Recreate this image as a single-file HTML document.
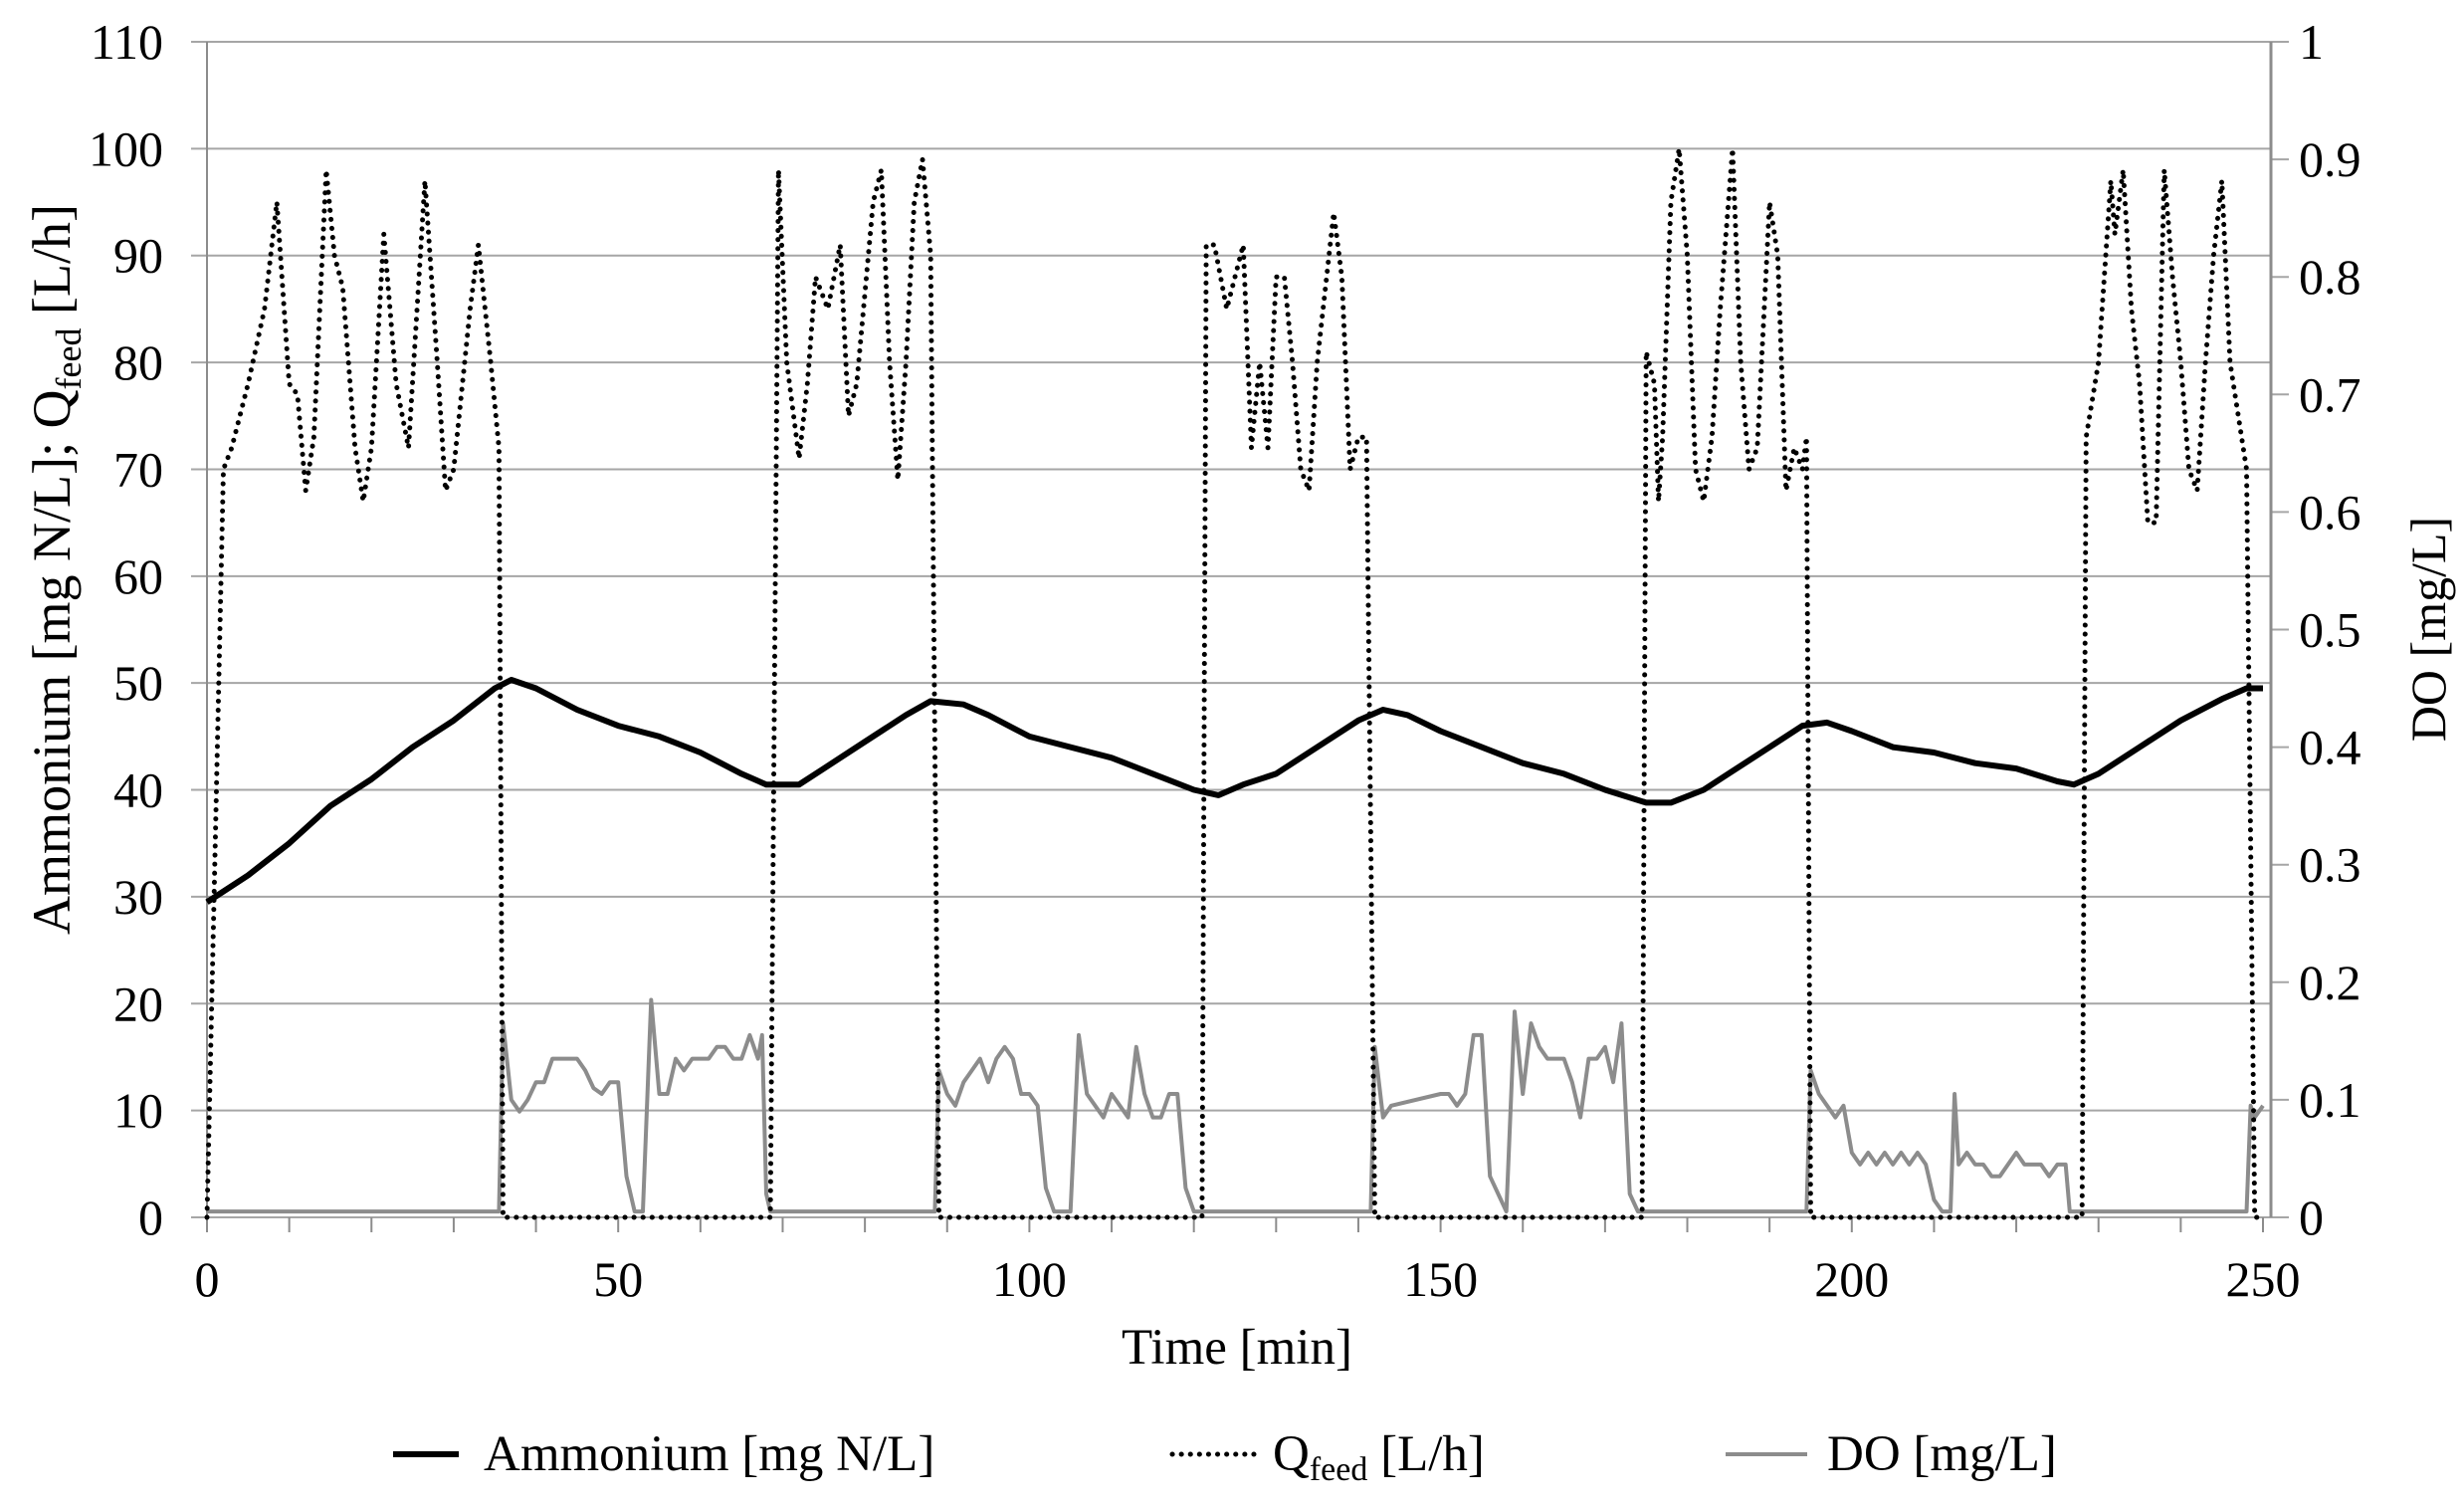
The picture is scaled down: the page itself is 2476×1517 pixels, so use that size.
<!DOCTYPE html>
<html><head><meta charset="utf-8"><style>
html,body{margin:0;padding:0;background:#fff;}
svg text{font-family:"Liberation Serif",serif;fill:#000;}
</style></head><body>
<svg id="chart" width="2476" height="1512" viewBox="0 0 2476 1512" xmlns="http://www.w3.org/2000/svg">
<g id="grid"></g>
<g id="axes"></g>
<g id="series"></g>
<text x="1243" y="1370" font-size="51" text-anchor="middle">Time [min]</text>
<text transform="translate(70,572) rotate(-90)" font-size="54" text-anchor="middle">Ammonium [mg N/L]; Q<tspan font-size="36" dy="11">feed</tspan><tspan dy="-11"> [L/h]</tspan></text>
<text transform="translate(2457,632) rotate(-90)" font-size="50" text-anchor="middle">DO [mg/L]</text>
<g>
<line x1="395" y1="1461" x2="461" y2="1461" stroke="#000" stroke-width="6"/>
<text x="486" y="1477" font-size="51">Ammonium [mg N/L]</text>
<line x1="1178" y1="1461" x2="1263" y2="1461" stroke="#000" stroke-width="5" stroke-dasharray="0.1 9" stroke-linecap="round"/>
<text x="1279" y="1477" font-size="51">Q<tspan font-size="34" dy="10">feed</tspan><tspan dy="-10"> [L/h]</tspan></text>
<line x1="1734" y1="1461" x2="1816" y2="1461" stroke="#8c8c8c" stroke-width="4"/>
<text x="1836" y="1477" font-size="51">DO [mg/L]</text>
</g>
</svg>
<script>
const ammT=[0,5,10,15,20,25,30,35,37,40,45,50,55,60,65,68,72,75,80,85,88,92,95,100,105,110,115,120,123,126,130,135,140,143,146,150,155,160,165,170,175,178,182,185,190,194,197,200,205,210,215,220,225,227,230,235,240,245,248,250];
const ammV=[29.5,32,35,38.5,41,44,46.5,49.5,50.3,49.5,47.5,46,45,43.5,41.5,40.5,40.5,42,44.5,47,48.3,48,47,45,44,43,41.5,40,39.5,40.5,41.5,44,46.5,47.5,47,45.5,44,42.5,41.5,40,38.8,38.8,40,41.5,44,46,46.3,45.5,44,43.5,42.5,42,40.8,40.5,41.5,44,46.5,48.5,49.5,49.5];
const qT=[0,1,2,3,5,7,8.5,10,11,12,13,14.5,15.5,16.5,18,19,20,21.5,23,24.5,26.5,28,29,30,32,33,34.5,35.5,36,68.5,69.5,70.5,72,73,74,75.5,77,78,79,81,82,83,84,85,86,87,88,89,121,121.5,122.5,124,125,126,127,128,129,130,131,132,133,134,135,137,138,139,140,141,142,174.5,175,176,176.5,177,178,179,180,181,182,183,184,185.5,186.5,187.5,188.5,190,191,192,193,194,194.5,195,228,228.5,230,231.5,232,233,234,235,236,237,238,239,240,241,242,243,244,245,246,247,248,249,250];
const qV=[0,35,70,72,78,85,95,78,77,68,73,98,90,87,72,67,72,92,78,72,97,80,68,70,85,91,80,72,0,0,98,80,71,78,88,85,91,75,78,95,98,80,69,80,95,99,90,0,0,91,91,85,88,91,72,80,72,88,88,80,70,68,80,94,88,70,73,73,0,0,81,78,67,73,95,100,90,70,67,73,85,100,80,70,72,95,90,68,72,70,73,0,0,73,80,97,92,98,85,78,65,65,98,88,80,70,68,80,90,97,80,75,70,0,0];
const doT=[0,35.5,
36,37,38,39,40,41,42,43,44,45,46,47,48,49,50,51,52,53,
54,55,56,57,58,59,60,61,62,63,64,65,66,67,67.5,68,68.5,
88.5,
89,90,91,92,93,94,95,96,97,98,99,100,101,102,103,
105,106,107,108,109,110,111,112,113,114,115,116,117,118,119,120,120.5,
141.5,
142,143,144,150,151,152,153,154,155,156,158,
159,160,161,162,163,164,165,166,167,168,169,170,171,172,173,174,174.5,
194.5,
195,196,197,198,199,200,201,202,203,204,205,206,207,208,209,210,211,212,
212.5,213,214,215,216,217,218,219,220,221,222,223,224,225,226,226.5,
248,248.5,249,250];
const doV=[0.005,0.005,
0.165,0.1,0.09,0.1,0.115,0.115,0.135,0.135,0.135,0.135,0.125,0.11,0.105,0.115,0.115,0.035,0.005,0.005,
0.185,0.105,0.105,0.135,0.125,0.135,0.135,0.135,0.145,0.145,0.135,0.135,0.155,0.135,0.155,0.02,0.005,
0.005,
0.125,0.105,0.095,0.115,0.125,0.135,0.115,0.135,0.145,0.135,0.105,0.105,0.095,0.025,0.005,
0.005,0.155,0.105,0.095,0.085,0.105,0.095,0.085,0.145,0.105,0.085,0.085,0.105,0.105,0.025,0.005,0.005,
0.005,
0.145,0.085,0.095,0.105,0.105,0.095,0.105,0.155,0.155,0.035,0.005,
0.175,0.105,0.165,0.145,0.135,0.135,0.135,0.115,0.085,0.135,0.135,0.145,0.115,0.165,0.02,0.005,0.005,
0.005,
0.125,0.105,0.095,0.085,0.095,0.055,0.045,0.055,0.045,0.055,0.045,0.055,0.045,0.055,0.045,0.015,0.005,0.005,
0.105,0.045,0.055,0.045,0.045,0.035,0.035,0.045,0.055,0.045,0.045,0.045,0.035,0.045,0.045,0.005,
0.005,0.095,0.085,0.095];
const leftTicks=[0,10,20,30,40,50,60,70,80,90,100,110];
const rightTicks=["0","0.1","0.2","0.3","0.4","0.5","0.6","0.7","0.8","0.9","1"];
const xLabels=[0,50,100,150,200,250];

const NS="http://www.w3.org/2000/svg";
const X0=208,X1=2274,Y0=1223,Y1=42,RX=2282;
const xS=t=>X0+(X1-X0)*t/250;
const yL=v=>Y0-(Y0-Y1)*v/110;
const yR=v=>Y0-(Y0-Y1)*v/1;
function mk(tag,attrs,parent){const e=document.createElementNS(NS,tag);for(const k in attrs)e.setAttribute(k,attrs[k]);parent.appendChild(e);return e;}
const grid=document.getElementById('grid'),axes=document.getElementById('axes'),series=document.getElementById('series');
leftTicks.forEach(v=>{
 const g=mk('line',{x1:192,x2:RX,y1:yL(v),y2:yL(v),stroke:'#a6a6a6','stroke-width':2},grid);
 
 
 const t=mk('text',{x:164,y:yL(v)+17,'font-size':50,'text-anchor':'end'},axes);
 t.textContent=v;
 
 
});
rightTicks.forEach(s=>{
 const v=parseFloat(s);
 const m=mk('line',{x1:RX,x2:2300,y1:yR(v),y2:yR(v),stroke:'#a6a6a6','stroke-width':2},axes);
 
 
 const t=mk('text',{x:2310,y:yR(v)+17,'font-size':50},axes);
 t.textContent=s;
 
 
});
let la=mk('line',{x1:X0,x2:X0,y1:Y1,y2:Y0+15,stroke:'#8c8c8c','stroke-width':2},axes);


let ra=mk('line',{x1:RX,x2:RX,y1:Y1,y2:Y0,stroke:'#8c8c8c','stroke-width':3},axes);


for(let t=10;t<=250;t+=10){
 const m=mk('line',{x1:xS(t),x2:xS(t),y1:Y0,y2:Y0+15,stroke:'#8c8c8c','stroke-width':2},axes);
 
 
}
xLabels.forEach(v=>{
 const t=mk('text',{x:xS(v),y:1302,'font-size':50,'text-anchor':'middle'},axes);
 t.textContent=v;
 
 
});
function pts(T,V,f){return T.map((t,i)=>xS(t).toFixed(1)+','+f(V[i]).toFixed(1)).join(' ');}
const dl=mk('polyline',{points:pts(doT,doV,yR),fill:'none',stroke:'#8c8c8c','stroke-width':4,'stroke-linejoin':'round'},series);


const ql=mk('polyline',{points:pts(qT,qV,yL),fill:'none',stroke:'#000','stroke-width':5,'stroke-dasharray':'0.1 9','stroke-linecap':'round'},series);


const al=mk('polyline',{points:pts(ammT,ammV,yL),fill:'none',stroke:'#000','stroke-width':6,'stroke-linejoin':'round'},series);


</script>
</body></html>
